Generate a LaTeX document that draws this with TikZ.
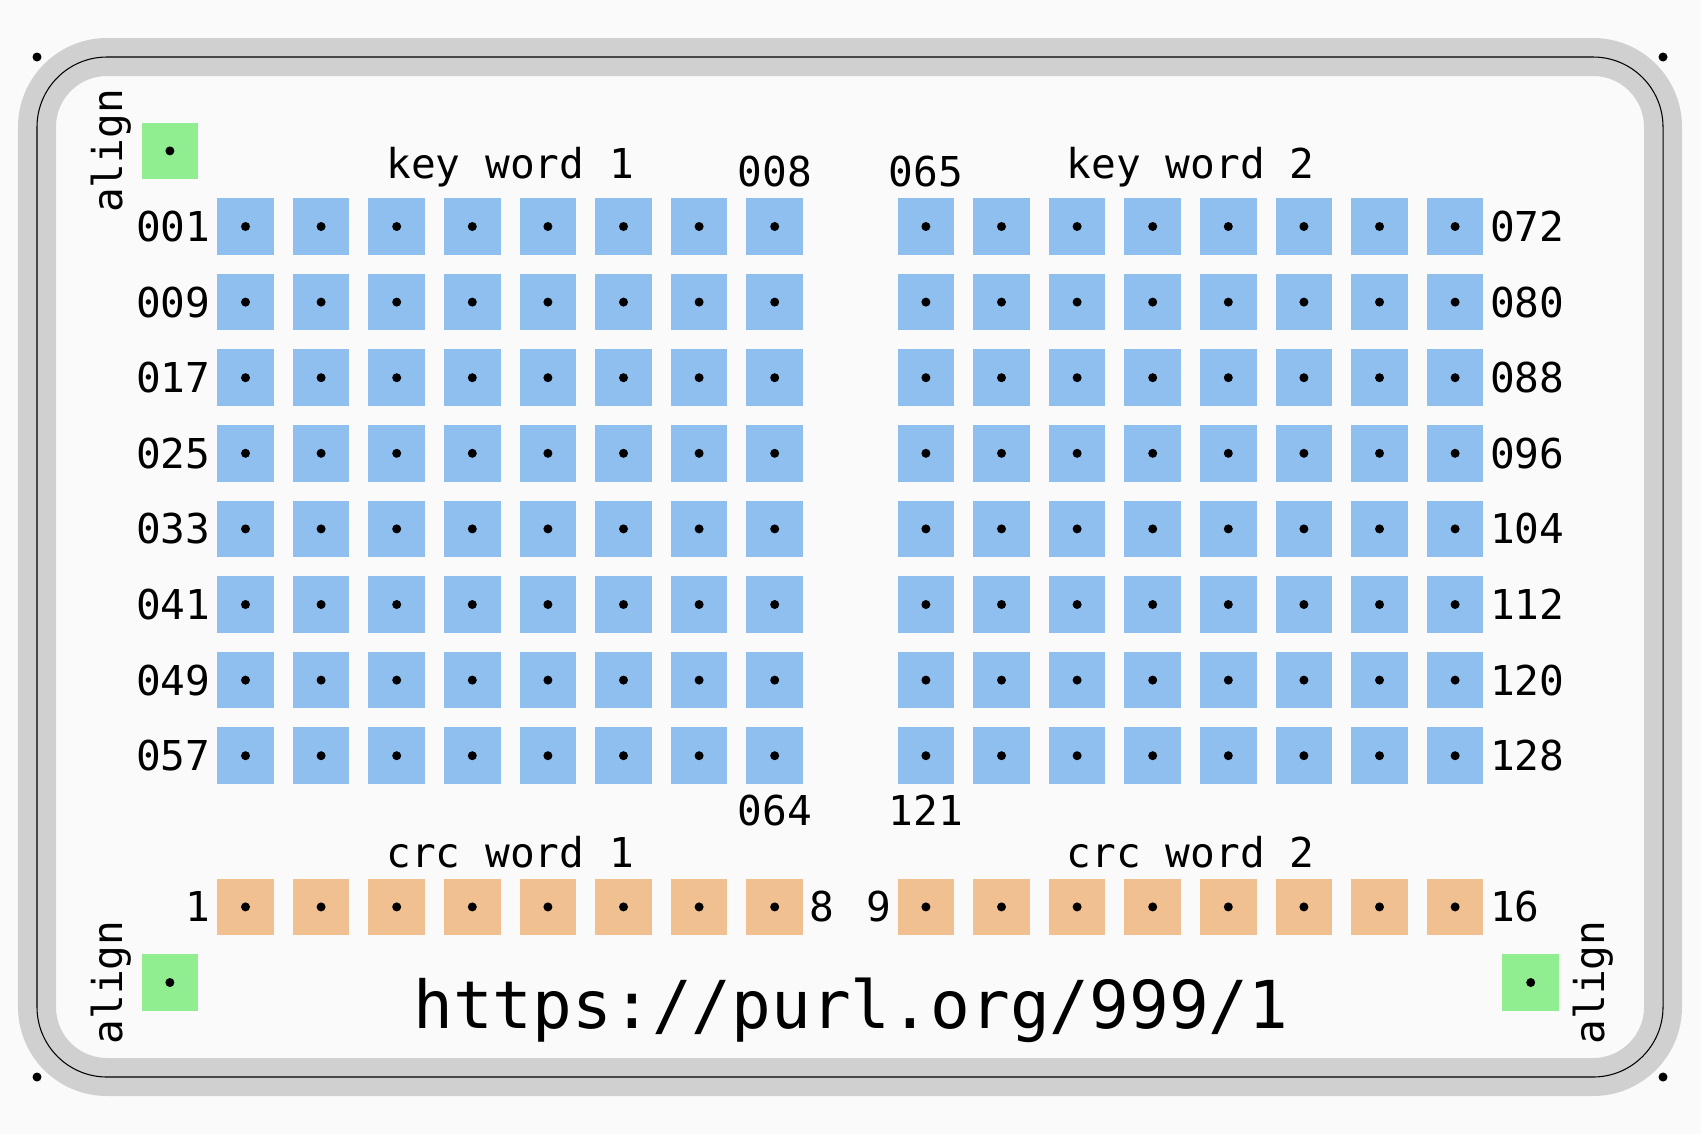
\documentclass[tikz,border=0pt]{standalone}
\usepackage{fontspec}
\setmonofont{DejaVu Sans Mono}
\usetikzlibrary{calc}
\definecolor{keyblue}{HTML}{8FBFEF}
\definecolor{crcorange}{HTML}{F0C090}
\definecolor{aligngreen}{HTML}{90EE90}
\definecolor{rimgray}{HTML}{D0D0D0}
\definecolor{paper}{HTML}{FAFAFA}
\tikzset{
    cell/.style = {
        minimum size=0.567cm,
        inner sep=0pt,
        outer sep=0pt,
        },
    key cell/.style = {
        cell,
        fill = keyblue,
        },
    crc cell/.style = {
        cell,
        fill = crcorange,
        },
    align cell/.style = {
        cell,
        fill = aligngreen,
        },
    tag/.style = {
        font=\ttfamily\fontsize{11.7}{14}\selectfont,
        inner xsep=0.06cm,
        inner ysep=0.1cm,
        },
    url/.style = {
        font=\ttfamily\fontsize{18.8}{22}\selectfont,
        inner sep=0pt,
        },
}

\begin{document}
\begin{tikzpicture}[x=1cm,y=1cm]
            \fill[paper] (0,0) rectangle (17.01,-11.34);
            \useasboundingbox (0,0) rectangle (17.01,-11.34);

            \coordinate (nw) at (0.37,-0.57);
            \coordinate (ne) at (16.63,-0.57);
            \coordinate (sw) at (0.37,-10.77);
            \coordinate (se) at (16.63,-10.77);
            \draw[rimgray, line width=0.38cm, rounded corners=0.7cm] (nw) rectangle (se);
            \draw[line width=0.3pt, rounded corners=0.7cm] (nw) rectangle (se);
            \foreach \p in {nw,ne,sw,se}
                \fill (\p) circle[radius=0.045];

            \foreach \r in {0,...,7}
                \foreach \c in {0,...,7} {
                    \node[key cell] (a-\r-\c) at ({2.455+0.756*\c},{-2.265-0.756*\r}) {};
                    \node[key cell] (b-\r-\c) at ({2.455+0.756*(\c+9)},{-2.265-0.756*\r}) {};
                    \fill (a-\r-\c) circle[radius=0.045];
                    \fill (b-\r-\c) circle[radius=0.045];
                }

            \foreach \c in {0,...,7} {
                \node[crc cell] (c1-\c) at ({2.455+0.756*\c},-9.069) {};
                \node[crc cell] (c2-\c) at ({2.455+0.756*(\c+9)},-9.069) {};
                \fill (c1-\c) circle[radius=0.045];
                \fill (c2-\c) circle[radius=0.045];
            }

            \node[align cell] (al-nw) at (1.699,-1.509) {};
            \node[align cell] (al-sw) at (1.699,-9.825) {};
            \node[align cell] (al-se) at (15.307,-9.825) {};
            \foreach \n in {al-nw,al-sw,al-se}
                \fill (\n) circle[radius=0.045];

            \node[tag, rotate=90, anchor=south] (t-nw) at (al-nw.west) {align};
            \node[tag, rotate=90, anchor=south] (t-sw) at (al-sw.west) {align};
            \node[tag, rotate=90, anchor=north] (t-se) at ([xshift=0.03cm]al-se.east) {align};

            \foreach \r/\lft/\rgt in {0/001/072,1/009/080,2/017/088,3/025/096,4/033/104,5/041/112,6/049/120,7/057/128} {
                \node[tag, anchor=east] (la-\r) at (a-\r-0.west) {\lft};
                \node[tag, anchor=west] (lb-\r) at (b-\r-7.east) {\rgt};
            }
            \node[tag, anchor=south] (n008) at (a-0-7.north) {008};
            \node[tag, anchor=south] (n065) at (b-0-0.north) {065};
            \node[tag, anchor=north] (n064) at (a-7-7.south) {064};
            \node[tag, anchor=north] (n121) at (b-7-0.south) {121};

            \node[tag, anchor=south] (kw1) at ($(a-0-0.north)!0.5!(a-0-7.north)$) {key word 1};
            \node[tag, anchor=south] (kw2) at ($(b-0-0.north)!0.5!(b-0-7.north)$) {key word 2};
            \node[tag, anchor=south] (cw1) at ($(c1-0.north)!0.5!(c1-7.north)$) {crc word 1};
            \node[tag, anchor=south] (cw2) at ($(c2-0.north)!0.5!(c2-7.north)$) {crc word 2};

            \node[tag, anchor=east] (n1) at (c1-0.west) {1};
            \node[tag, anchor=west] (n8) at (c1-7.east) {8};
            \node[tag, anchor=east] (n9) at (c2-0.west) {9};
            \node[tag, anchor=west] (n16) at (c2-7.east) {16};

            \node[url, anchor=base] (url) at (8.51,-10.28) {https://purl.org/999/1};
        \end{tikzpicture}
\end{document}
